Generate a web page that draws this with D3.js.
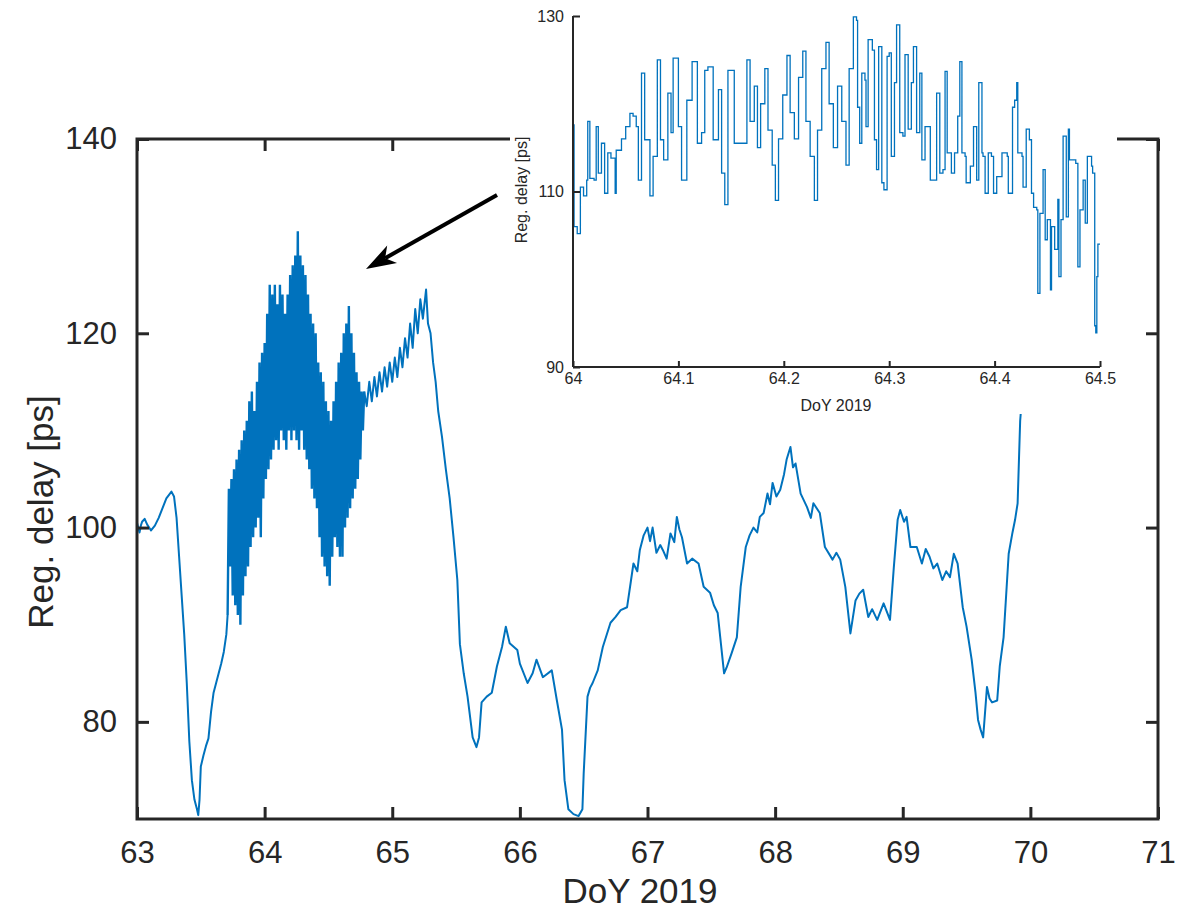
<!DOCTYPE html>
<html>
<head>
<meta charset="utf-8">
<script src="https://cdn.jsdelivr.net/npm/d3@7"></script>
<style>
  body { margin: 0; background: #fff; }
  text { font-family: "Liberation Sans", Arial, Helvetica, sans-serif; fill: #262626; }
</style>
</head>
<body>
<div id="chart"></div>
<script>
// main series, [DoY, delay in ps]
const preBand = [
  [63.00, 100.5], [63.02, 99.5], [63.03, 100.2], [63.04, 100.6], [63.06, 100.9], [63.08, 100.3],
  [63.11, 99.7], [63.14, 100.2], [63.17, 101.0], [63.20, 102.0], [63.23, 103.0], [63.27, 103.7],
  [63.29, 103.2], [63.31, 101.0], [63.33, 97.0], [63.35, 93.0], [63.37, 89.0], [63.39, 84.0],
  [63.41, 78.0], [63.43, 74.0], [63.45, 72.0], [63.47, 71.0], [63.48, 70.4], [63.49, 72.0],
  [63.50, 75.4], [63.52, 76.5], [63.54, 77.5], [63.56, 78.3], [63.58, 81.0], [63.60, 83.0],
  [63.62, 84.0], [63.64, 85.0], [63.66, 86.0], [63.68, 87.2], [63.70, 89.0], [63.71, 91.0]
]

// the dense oscillating part around DoY 64
const band = [
  [63.71, 91], [63.72, 104], [63.73, 96], [63.74, 105], [63.75, 93], [63.76, 106], [63.77, 92],
  [63.78, 107], [63.79, 91], [63.80, 108], [63.81, 90], [63.82, 109], [63.83, 93],
  [63.84, 110], [63.85, 95], [63.86, 111], [63.87, 96], [63.88, 113], [63.89, 98],
  [63.90, 114], [63.91, 99], [63.92, 112], [63.93, 100], [63.94, 115], [63.95, 101],
  [63.96, 117], [63.97, 99], [63.98, 118], [63.99, 103], [64.00, 119], [64.01, 105],
  [64.02, 122], [64.03, 106], [64.04, 125], [64.05, 107], [64.06, 124], [64.07, 108],
  [64.08, 125], [64.09, 109], [64.10, 123], [64.11, 108], [64.12, 125], [64.13, 110],
  [64.14, 124], [64.15, 109], [64.16, 122], [64.17, 108], [64.18, 124], [64.19, 110],
  [64.20, 126], [64.21, 109], [64.22, 127], [64.23, 110], [64.24, 128], [64.25, 109],
  [64.26, 130.5], [64.27, 108], [64.28, 128], [64.29, 110], [64.30, 127], [64.31, 108],
  [64.32, 126], [64.33, 107], [64.34, 124], [64.35, 106], [64.36, 122], [64.37, 104],
  [64.38, 121], [64.39, 103], [64.40, 120], [64.41, 102], [64.42, 117], [64.43, 99],
  [64.44, 116], [64.45, 97], [64.46, 115], [64.47, 96], [64.48, 113], [64.49, 95],
  [64.50, 112], [64.51, 94], [64.52, 111], [64.53, 97], [64.54, 113], [64.55, 99],
  [64.56, 115], [64.57, 98], [64.58, 117], [64.59, 97], [64.60, 118], [64.61, 97],
  [64.62, 120], [64.63, 100], [64.64, 121], [64.65, 101], [64.66, 122.8], [64.67, 102],
  [64.68, 120], [64.69, 103], [64.70, 118], [64.71, 104], [64.72, 116], [64.73, 105],
  [64.74, 115], [64.75, 107], [64.76, 114], [64.77, 110], [64.78, 114]
]

const postBand = [
  [64.78, 114], [64.80, 112.5], [64.82, 115], [64.84, 113], [64.86, 115.5], [64.88, 113.5],
  [64.90, 116], [64.92, 114], [64.94, 116.5], [64.96, 114.5], [64.98, 117], [65.00, 115],
  [65.02, 117.5], [65.04, 115.5], [65.06, 118.5], [65.08, 116.5], [65.10, 119.5], [65.12, 117.5],
  [65.14, 121], [65.16, 118.5], [65.18, 122.5], [65.20, 120], [65.22, 123.5], [65.24, 121.5],
  [65.265, 124.5], [65.28, 121], [65.30, 120], [65.32, 117], [65.34, 115], [65.36, 112],
  [65.39, 109.3], [65.42, 106], [65.45, 103], [65.48, 99], [65.51, 94.6], [65.53, 88],
  [65.56, 85], [65.59, 82.6], [65.63, 78.4], [65.66, 77.4], [65.68, 78.4], [65.70, 82],
  [65.74, 82.6], [65.78, 83], [65.82, 85.7], [65.86, 87.7], [65.89, 89.8], [65.92, 88.1],
  [65.98, 87.4], [66.00, 86], [66.06, 84], [66.10, 85], [66.13, 86.4], [66.18, 84.6],
  [66.25, 85.3], [66.29, 82.2], [66.33, 79.2], [66.35, 74], [66.38, 71], [66.42, 70.5],
  [66.46, 70.3], [66.49, 71], [66.50, 74.7], [66.53, 82.6], [66.55, 83.5], [66.57, 84],
  [66.61, 85.3], [66.65, 87.7], [66.71, 90.2], [66.75, 90.8], [66.79, 91.5], [66.84, 91.8],
  [66.87, 94.5], [66.89, 96.3], [66.92, 95.5], [66.94, 97.7], [66.97, 99.2], [67.00, 100],
  [67.02, 98.6], [67.04, 100], [67.07, 97.4], [67.10, 98.2], [67.12, 97.7], [67.15, 96.8],
  [67.18, 99.4], [67.21, 98.5], [67.23, 101.1], [67.25, 99.8], [67.27, 99], [67.31, 96.3],
  [67.35, 96.8], [67.40, 96.3], [67.44, 93.9], [67.49, 93.3], [67.52, 92.0], [67.55, 91.2],
  [67.57, 88.7], [67.60, 85], [67.62, 85.6], [67.66, 87.1], [67.70, 88.7], [67.73, 93.9],
  [67.77, 98], [67.80, 99.2], [67.83, 100], [67.86, 99.5], [67.88, 101.1], [67.91, 101.5],
  [67.94, 103.5], [67.96, 102.4], [67.98, 104.6], [68.01, 103.2], [68.04, 103.9], [68.07, 105.5],
  [68.09, 107], [68.12, 108.3], [68.14, 106.2], [68.16, 106.6], [68.20, 103.5], [68.25, 102.1],
  [68.28, 101.0], [68.30, 102.5], [68.35, 101.5], [68.39, 98], [68.45, 96.7], [68.48, 97.4],
  [68.51, 96.7], [68.55, 93.9], [68.59, 89.1], [68.63, 92.5], [68.66, 93.2], [68.69, 93.6],
  [68.73, 90.8], [68.76, 91.6], [68.80, 90.5], [68.85, 92.2], [68.90, 90.5], [68.93, 95.9],
  [68.96, 100.8], [68.98, 101.8], [69.01, 100.6], [69.03, 101.1], [69.06, 98], [69.11, 98],
  [69.15, 96.3], [69.18, 97.8], [69.21, 97], [69.24, 95.8], [69.27, 96.3], [69.31, 94.6],
  [69.34, 95.5], [69.37, 94.9], [69.40, 97.3], [69.43, 96.3], [69.47, 91.8], [69.50, 89.8],
  [69.54, 86.4], [69.57, 83], [69.59, 80.2], [69.61, 79.2], [69.63, 78.4], [69.66, 83.6],
  [69.68, 82.4], [69.70, 82], [69.74, 82.2], [69.76, 85.7], [69.79, 88.7], [69.83, 97.3],
  [69.86, 99.5], [69.88, 100.8], [69.90, 102.5], [69.92, 111], [69.95, 116]
]

// zoomed series, DoY 64 to 64.5
const insetPoints = [
  [64.000, 117.6], [64.001, 106], [64.004, 105.2], [64.007, 110.5], [64.010, 109.5], [64.013, 111.3],
  [64.014, 118], [64.016, 111.5], [64.020, 111.3], [64.022, 117.4], [64.024, 112.1], [64.027, 115.5],
  [64.030, 109.8], [64.033, 114.4], [64.036, 113.8], [64.040, 109.8], [64.041, 114.7], [64.046, 116],
  [64.050, 117.4], [64.054, 118.9], [64.057, 118.6], [64.060, 117.4], [64.062, 111.3], [64.065, 123.5],
  [64.068, 115.9], [64.071, 115.9], [64.073, 109.5], [64.076, 114], [64.080, 125], [64.083, 115.9],
  [64.086, 113.6], [64.090, 121.2], [64.093, 116.7], [64.095, 125.2], [64.100, 117.4], [64.103, 111.3],
  [64.108, 120.4], [64.113, 124.8], [64.118, 115.5], [64.122, 116.7], [64.125, 123.8], [64.128, 124.2],
  [64.133, 115.9], [64.138, 121.6], [64.141, 112.1], [64.144, 108.5], [64.147, 123.8], [64.153, 115.5],
  [64.158, 115.5], [64.165, 125], [64.168, 118], [64.172, 122], [64.175, 115], [64.178, 120],
  [64.182, 124], [64.185, 117], [64.189, 113], [64.192, 109], [64.195, 116], [64.199, 121],
  [64.203, 125.5], [64.206, 119], [64.210, 116], [64.214, 123], [64.218, 126], [64.221, 118],
  [64.225, 114], [64.229, 109], [64.232, 117], [64.236, 124], [64.240, 127], [64.243, 120],
  [64.247, 115], [64.251, 122], [64.255, 118], [64.259, 113], [64.262, 124], [64.266, 129.9],
  [64.269, 129.5], [64.270, 119.6], [64.272, 115.5], [64.274, 123.5], [64.277, 122.7], [64.278, 117.4],
  [64.280, 127.3], [64.284, 126.1], [64.286, 115.9], [64.288, 112.5], [64.290, 126.5], [64.293, 111],
  [64.295, 110.2], [64.298, 125.4], [64.300, 125.8], [64.302, 114], [64.305, 122.4], [64.307, 129],
  [64.310, 116.7], [64.313, 116.3], [64.315, 125.6], [64.318, 117.1], [64.321, 122.4], [64.323, 126.5],
  [64.326, 116.7], [64.329, 123.5], [64.331, 113.6], [64.334, 117.4], [64.339, 111.3], [64.343, 111.3],
  [64.345, 121.2], [64.347, 121.2], [64.348, 112.1], [64.351, 112.5], [64.353, 123.7], [64.355, 114.4],
  [64.359, 112.1], [64.362, 114.4], [64.365, 118.6], [64.367, 124.8], [64.369, 114.4], [64.372, 114],
  [64.373, 111], [64.377, 112.9], [64.380, 117.4], [64.383, 111.3], [64.385, 122.4], [64.388, 114.4],
  [64.389, 114], [64.391, 109.8], [64.394, 114.4], [64.397, 114], [64.399, 109.8], [64.402, 111.7],
  [64.407, 114.4], [64.412, 114], [64.413, 109.8], [64.417, 119.6], [64.419, 120.4], [64.421, 122.4],
  [64.422, 114.4], [64.426, 114], [64.427, 110.5], [64.430, 117.1], [64.433, 115.9], [64.435, 109.8],
  [64.437, 108.2], [64.440, 107.9], [64.441, 98.4], [64.443, 107.5], [64.446, 112.5], [64.448, 104.5],
  [64.450, 106.8], [64.453, 98.8], [64.454, 106], [64.457, 103.4], [64.460, 109.1], [64.461, 100.3],
  [64.463, 106.8], [64.465, 116.3], [64.468, 107.1], [64.470, 117.1], [64.471, 113.6], [64.477, 113.2],
  [64.479, 101.4], [64.481, 107.9], [64.484, 111.3], [64.486, 106.4], [64.488, 114], [64.492, 112.9],
  [64.493, 112.1], [64.495, 94.7], [64.496, 93.9], [64.497, 100.3], [64.498, 104], [64.500, 104]
]

const mainXTicks = [63, 64, 65, 66, 67, 68, 69, 70, 71]
const mainYTicks = [80, 100, 120, 140]
const insetXTicks = [64, 64.1, 64.2, 64.3, 64.4, 64.5]
const insetYTicks = [90, 110, 130]

const lineColor = "#0072BD"
const axisColor = "#262626"

const svg = d3.select("#chart").append("svg").attr("width", 1201).attr("height", 911)

// ---- main axes
const x = d3.scaleLinear().domain([63, 71]).range([137, 1158])
const y = d3.scaleLinear().domain([70, 140]).range([819, 139])

svg.append("clipPath").attr("id", "mainClip")
    .append("rect").attr("x", 137).attr("y", 139).attr("width", 1021).attr("height", 680)

const line = d3.line().x((d) => x(d[0])).y((d) => y(d[1]))

// smooth parts and the oscillating band, same series
svg.append("path")
    .datum(preBand.concat(postBand))
    .attr("clip-path", "url(#mainClip)")
    .attr("fill", "none")
    .attr("stroke", lineColor)
    .attr("stroke-width", 2)
    .attr("stroke-linejoin", "round")
    .attr("d", line(preBand) + line(postBand).replace(/^M/, "M"))

svg.append("path")
    .datum(band)
    .attr("clip-path", "url(#mainClip)")
    .attr("fill", "none")
    .attr("stroke", lineColor)
    .attr("stroke-width", 2.4)
    .attr("d", line)

const tickLen = 12
const bottomAxis = d3.axisBottom(x).tickValues(mainXTicks).tickSize(-tickLen).tickPadding(22).tickFormat(d3.format("d"))
const leftAxis = d3.axisLeft(y).tickValues(mainYTicks).tickSize(-tickLen).tickPadding(20).tickFormat(d3.format("d"))
const topAxis = d3.axisTop(x).tickValues(mainXTicks).tickSize(-tickLen).tickFormat("")
const rightAxis = d3.axisRight(y).tickValues(mainYTicks).tickSize(-tickLen).tickFormat("")

function styleAxis(g) {
    g.select(".domain").remove()
    g.selectAll(".tick line").attr("stroke", axisColor).attr("stroke-width", 3)
    g.selectAll(".tick text").attr("fill", axisColor).style("font-size", "31px")
        .attr("font-family", "'Liberation Sans', Arial, sans-serif")
}

svg.append("g").attr("transform", "translate(0,819)").call(bottomAxis).call(styleAxis)
svg.append("g").attr("transform", "translate(137,0)").call(leftAxis).call(styleAxis)
svg.append("g").attr("transform", "translate(0,139)").call(topAxis).call(styleAxis)
svg.append("g").attr("transform", "translate(1158,0)").call(rightAxis).call(styleAxis)

svg.append("rect")
    .attr("x", 137).attr("y", 139).attr("width", 1021).attr("height", 680)
    .attr("fill", "none").attr("stroke", axisColor).attr("stroke-width", 3)

svg.append("text")
    .attr("x", 640).attr("y", 903)
    .attr("text-anchor", "middle")
    .style("font-size", "35px")
    .text("DoY 2019")

svg.append("text")
    .attr("transform", "translate(53,512) rotate(-90)")
    .attr("text-anchor", "middle")
    .style("font-size", "35px")
    .text("Reg. delay [ps]")

// ---- arrow pointing at the zoomed part
const arrowFrom = [497, 195], arrowTip = [366, 269]
const dx = arrowTip[0] - arrowFrom[0], dy = arrowTip[1] - arrowFrom[1]
const len = Math.hypot(dx, dy)
const ux = dx / len, uy = dy / len
const px = -uy, py = ux
const headLen = 30, headHalf = 10, notch = 22

svg.append("line")
    .attr("x1", arrowFrom[0]).attr("y1", arrowFrom[1])
    .attr("x2", arrowTip[0] - ux * notch).attr("y2", arrowTip[1] - uy * notch)
    .attr("stroke", "#000").attr("stroke-width", 4)

svg.append("polygon")
    .attr("points", [
        arrowTip,
        [arrowTip[0] - ux * headLen + px * headHalf, arrowTip[1] - uy * headLen + py * headHalf],
        [arrowTip[0] - ux * notch, arrowTip[1] - uy * notch],
        [arrowTip[0] - ux * headLen - px * headHalf, arrowTip[1] - uy * headLen - py * headHalf]
    ].map((p) => p.join(",")).join(" "))
    .attr("fill", "#000")

// ---- inset
svg.append("rect")
    .attr("x", 510).attr("y", 0).attr("width", 607).attr("height", 414)
    .attr("fill", "#fff")

const xi = d3.scaleLinear().domain([64, 64.5]).range([573, 1100])
const yi = d3.scaleLinear().domain([90, 130]).range([367, 16])

const insetLine = d3.line().curve(d3.curveStepAfter).x((d) => xi(d[0])).y((d) => yi(d[1]))

svg.append("path")
    .datum(insetPoints)
    .attr("fill", "none")
    .attr("stroke", lineColor)
    .attr("stroke-width", 1.3)
    .attr("d", insetLine)

const insetBottom = d3.axisBottom(xi).tickValues(insetXTicks).tickSize(-6).tickPadding(6)
    .tickFormat((d) => d === 64 ? "64" : d3.format(".1f")(d))
const insetLeft = d3.axisLeft(yi).tickValues(insetYTicks).tickSize(-7).tickPadding(9).tickFormat(d3.format("d"))

function styleInset(g) {
    g.select(".domain").attr("stroke", axisColor).attr("stroke-width", 2)
    g.selectAll(".tick line").attr("stroke", axisColor).attr("stroke-width", 2)
    g.selectAll(".tick text").attr("fill", axisColor).style("font-size", "16px")
        .attr("font-family", "'Liberation Sans', Arial, sans-serif")
}

const gib = svg.append("g").attr("transform", "translate(0,367)").call(insetBottom).call(styleInset)
gib.select(".domain").attr("d", "M573,0H1100")
const gil = svg.append("g").attr("transform", "translate(573,0)").call(insetLeft).call(styleInset)
gil.select(".domain").attr("d", "M0,16V367")

svg.append("text")
    .attr("x", 836).attr("y", 411)
    .attr("text-anchor", "middle")
    .style("font-size", "16px")
    .text("DoY 2019")

svg.append("text")
    .attr("transform", "translate(527,190) rotate(-90)")
    .attr("text-anchor", "middle")
    .style("font-size", "16px")
    .text("Reg. delay [ps]")
</script>
</body>
</html>
